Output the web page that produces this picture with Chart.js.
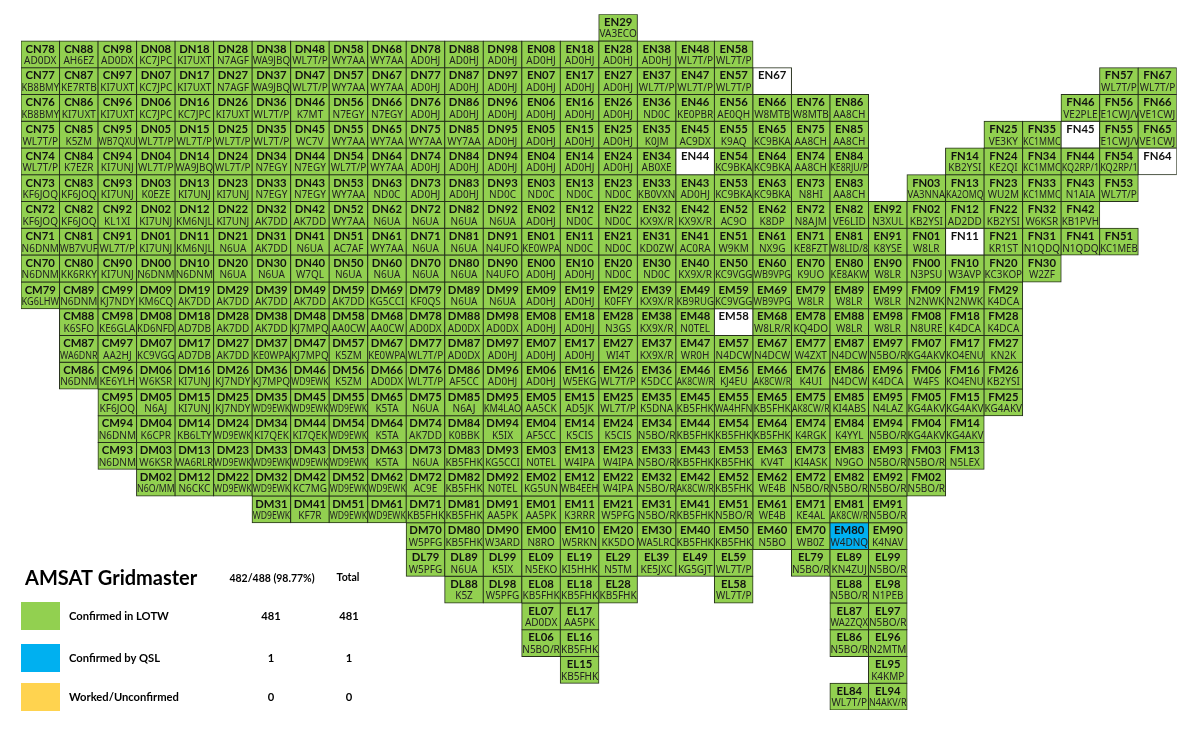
<!DOCTYPE html>
<html>
<head>
<meta charset="utf-8">
<title>AMSAT Gridmaster</title>
<script src="https://cdn.jsdelivr.net/npm/chart.js@4/dist/chart.umd.min.js"></script>
<style>
    html, body { margin: 0; padding: 0; background: #fff; }
    canvas { display: block; }
</style>
</head>
<body>
<canvas id="gridChart" width="1200" height="734"></canvas>
<script>
// columns run west to east, rows north to south (field letter + square digit)
const lonBands = ['C7','C8','C9','D0','D1','D2','D3','D4','D5','D6','D7','D8','D9','E0','E1','E2','E3','E4','E5','E6','E7','E8','E9','F0','F1','F2','F3','F4','F5','F6'];
const latBands = ['N9','N8','N7','N6','N5','N4','N3','N2','N1','N0','M9','M8','M7','M6','M5','M4','M3','M2','M1','M0','L9','L8','L7','L6','L5','L4'];

const gridsN9 = ['EN29'];
const callsN9 = ['VA3ECO'];
const gridsN8 = ['CN78','CN88','CN98','DN08','DN18','DN28','DN38','DN48','DN58','DN68','DN78','DN88','DN98','EN08','EN18','EN28','EN38','EN48','EN58'];
const callsN8 = ['AD0DX','AH6EZ','AD0DX','KC7JPC','KI7UXT','N7AGF','WA9JBQ','WL7T/P','WY7AA','WY7AA','AD0HJ','AD0HJ','AD0HJ','AD0HJ','AD0HJ','AD0HJ','AD0HJ','WL7T/P','WL7T/P'];
const gridsN7 = ['CN77','CN87','CN97','DN07','DN17','DN27','DN37','DN47','DN57','DN67','DN77','DN87','DN97','EN07','EN17','EN27','EN37','EN47','EN57','EN67','FN57','FN67'];
const callsN7 = ['KB8BMY','KE7RTB','KI7UXT','KC7JPC','KI7UXT','N7AGF','WA9JBQ','WL7T/P','WY7AA','WY7AA','AD0HJ','AD0HJ','AD0HJ','AD0HJ','AD0HJ','AD0HJ','WL7T/P','WL7T/P','WL7T/P','','WL7T/P','WL7T/P'];
const gridsN6 = ['CN76','CN86','CN96','DN06','DN16','DN26','DN36','DN46','DN56','DN66','DN76','DN86','DN96','EN06','EN16','EN26','EN36','EN46','EN56','EN66','EN76','EN86','FN46','FN56','FN66'];
const callsN6 = ['KB8BMY','KI7UXT','KI7UXT','KC7JPC','KC7JPC','KI7UXT','WL7T/P','K7MT','N7EGY','N7EGY','AD0HJ','AD0HJ','AD0HJ','AD0HJ','AD0HJ','AD0HJ','ND0C','KE0PBR','AE0QH','W8MTB','W8MTB','AA8CH','VE2PLE','VE1CWJ/W','VE1CWJ'];
const gridsN5 = ['CN75','CN85','CN95','DN05','DN15','DN25','DN35','DN45','DN55','DN65','DN75','DN85','DN95','EN05','EN15','EN25','EN35','EN45','EN55','EN65','EN75','EN85','FN25','FN35','FN45','FN55','FN65'];
const callsN5 = ['WL7T/P','K5ZM','WB7QXU','WL7T/P','WL7T/P','WL7T/P','WL7T/P','WC7V','WY7AA','WY7AA','WY7AA','WY7AA','AD0HJ','AD0HJ','AD0HJ','AD0HJ','K0JM','AC9DX','K9AQ','KC9BKA','AA8CH','AA8CH','VE3KY','KC1MMC','','VE1CWJ/W','VE1CWJ'];
const gridsN4 = ['CN74','CN84','CN94','DN04','DN14','DN24','DN34','DN44','DN54','DN64','DN74','DN84','DN94','EN04','EN14','EN24','EN34','EN44','EN54','EN64','EN74','EN84','FN14','FN24','FN34','FN44','FN54','FN64'];
const callsN4 = ['WL7T/P','K7EZR','KI7UNJ','WL7T/P','WA9JBQ','WL7T/P','N7EGY','N7EGY','WL7T/P','WY7AA','AD0HJ','AD0HJ','AD0HJ','AD0HJ','AD0HJ','AD0HJ','AB0XE','','KC9BKA','KC9BKA','AA8CH','KE8RJU/P','KB2YSI','KE2QI','KC1MMC','KQ2RP/1','KQ2RP/1',''];
const gridsN3 = ['CN73','CN83','CN93','DN03','DN13','DN23','DN33','DN43','DN53','DN63','DN73','DN83','DN93','EN03','EN13','EN23','EN33','EN43','EN53','EN63','EN73','EN83','FN03','FN13','FN23','FN33','FN43','FN53'];
const callsN3 = ['KF6JOQ','KF6JOQ','KI7UNJ','K0EZE','KI7UNJ','KI7UNJ','N7EGY','N7EGY','WY7AA','ND0C','AD0HJ','AD0HJ','ND0C','ND0C','ND0C','ND0C','KB0VXN','AD0HJ','KC9BKA','KC9BKA','N8HI','AA8CH','VA3NNA','KA2OMQ','WU2M','KC1MMC','N1AIA','WL7T/P'];
const gridsN2 = ['CN72','CN82','CN92','DN02','DN12','DN22','DN32','DN42','DN52','DN62','DN72','DN82','DN92','EN02','EN12','EN22','EN32','EN42','EN52','EN62','EN72','EN82','EN92','FN02','FN12','FN22','FN32','FN42'];
const callsN2 = ['KF6JOQ','KF6JOQ','KL1XI','KI7UNJ','KM6NJL','KI7UNJ','AK7DD','AK7DD','WY7AA','N6UA','N6UA','N6UA','N6UA','AD0HJ','ND0C','ND0C','KX9X/R','KX9X/R','AC9O','K8DP','N8AJM','VE6LID','N3XUL','KB2YSI','AD2DD','KB2YSI','W6KSR','KB1PVH'];
const gridsN1 = ['CN71','CN81','CN91','DN01','DN11','DN21','DN31','DN41','DN51','DN61','DN71','DN81','DN91','EN01','EN11','EN21','EN31','EN41','EN51','EN61','EN71','EN81','EN91','FN01','FN11','FN21','FN31','FN41','FN51'];
const callsN1 = ['N6DNM','WB7VUF','WL7T/P','KI7UNJ','KM6NJL','N6UA','AK7DD','N6UA','AC7AF','WY7AA','N6UA','N6UA','N4UFO','KE0WPA','ND0C','ND0C','KD0ZW','AC0RA','W9KM','NX9G','KE8FZT','W8LID/8','K8YSE','W8LR','','KR1ST','N1QDQ','N1QDQ','KC1MEB'];
const gridsN0 = ['CN70','CN80','CN90','DN00','DN10','DN20','DN30','DN40','DN50','DN60','DN70','DN80','DN90','EN00','EN10','EN20','EN30','EN40','EN50','EN60','EN70','EN80','EN90','FN00','FN10','FN20','FN30'];
const callsN0 = ['N6DNM','KK6RKY','KI7UNJ','N6DNM','N6DNM','N6UA','N6UA','W7QL','N6UA','N6UA','N6UA','N6UA','N4UFO','AD0HJ','AD0HJ','ND0C','ND0C','KX9X/R','KC9VGG','WB9VPG','K9UO','KE8AKW','W8LR','N3PSU','W3AVP','KC3KOP','W2ZF'];
const gridsM9 = ['CM79','CM89','CM99','DM09','DM19','DM29','DM39','DM49','DM59','DM69','DM79','DM89','DM99','EM09','EM19','EM29','EM39','EM49','EM59','EM69','EM79','EM89','EM99','FM09','FM19','FM29'];
const callsM9 = ['KG6LHW','N6DNM','KJ7NDY','KM6CQ','AK7DD','AK7DD','AK7DD','AK7DD','AK7DD','KG5CCI','KF0QS','N6UA','N6UA','AD0HJ','AD0HJ','K0FFY','KX9X/R','KB9RUG','KC9VGG','WB9VPG','W8LR','W8LR','W8LR','N2NWK','N2NWK','K4DCA'];
const gridsM8 = ['CM88','CM98','DM08','DM18','DM28','DM38','DM48','DM58','DM68','DM78','DM88','DM98','EM08','EM18','EM28','EM38','EM48','EM58','EM68','EM78','EM88','EM98','FM08','FM18','FM28'];
const callsM8 = ['K6SFO','KE6GLA','KD6NFD','AD7DB','AK7DD','AK7DD','KJ7MPQ','AA0CW','AA0CW','AD0DX','AD0DX','AD0DX','AD0HJ','AD0HJ','N3GS','KX9X/R','N0TEL','','W8LR/R','KQ4DO','W8LR','W8LR','N8URE','K4DCA','K4DCA'];
const gridsM7 = ['CM87','CM97','DM07','DM17','DM27','DM37','DM47','DM57','DM67','DM77','DM87','DM97','EM07','EM17','EM27','EM37','EM47','EM57','EM67','EM77','EM87','EM97','FM07','FM17','FM27'];
const callsM7 = ['WA6DNR','AA2HJ','KC9VGG','AD7DB','AK7DD','KE0WPA','KJ7MPQ','K5ZM','KE0WPA','WL7T/P','AD0DX','AD0HJ','AD0HJ','AD0HJ','WI4T','KX9X/R','WR0H','N4DCW','N4DCW','W4ZXT','N4DCW','N5BO/R','KG4AKV','KO4ENU','KN2K'];
const gridsM6 = ['CM86','CM96','DM06','DM16','DM26','DM36','DM46','DM56','DM66','DM76','DM86','DM96','EM06','EM16','EM26','EM36','EM46','EM56','EM66','EM76','EM86','EM96','FM06','FM16','FM26'];
const callsM6 = ['N6DNM','KE6YLH','W6KSR','KI7UNJ','KJ7NDY','KJ7MPQ','WD9EWK','K5ZM','AD0DX','WL7T/P','AF5CC','AD0HJ','AD0HJ','W5EKG','WL7T/P','K5DCC','AK8CW/R','KJ4EU','AK8CW/R','K4UI','N4DCW','K4DCA','W4FS','KO4ENU','KB2YSI'];
const gridsM5 = ['CM95','DM05','DM15','DM25','DM35','DM45','DM55','DM65','DM75','DM85','DM95','EM05','EM15','EM25','EM35','EM45','EM55','EM65','EM75','EM85','EM95','FM05','FM15','FM25'];
const callsM5 = ['KF6JOQ','N6AJ','KI7UNJ','KJ7NDY','WD9EWK','WD9EWK','WD9EWK','K5TA','N6UA','N6AJ','KM4LAO','AA5CK','AD5JK','WL7T/P','K5DNA','KB5FHK','WA4HFN','KB5FHK','AK8CW/R','KI4ABS','N4LAZ','KG4AKV','KG4AKV','KG4AKV'];
const gridsM4 = ['CM94','DM04','DM14','DM24','DM34','DM44','DM54','DM64','DM74','DM84','DM94','EM04','EM14','EM24','EM34','EM44','EM54','EM64','EM74','EM84','EM94','FM04','FM14'];
const callsM4 = ['N6DNM','K6CPR','KB6LTY','WD9EWK','KI7QEK','KI7QEK','WD9EWK','K5TA','AK7DD','K0BBK','K5IX','AF5CC','K5CIS','K5CIS','N5BO/R','KB5FHK','KB5FHK','KB5FHK','K4RGK','K4YYL','N5BO/R','KG4AKV','KG4AKV'];
const gridsM3 = ['CM93','DM03','DM13','DM23','DM33','DM43','DM53','DM63','DM73','DM83','DM93','EM03','EM13','EM23','EM33','EM43','EM53','EM63','EM73','EM83','EM93','FM03','FM13'];
const callsM3 = ['N6DNM','W6KSR','WA6RLR','WD9EWK','WD9EWK','WD9EWK','WD9EWK','K5TA','N6UA','KB5FHK','KG5CCI','N0TEL','W4IPA','W4IPA','N5BO/R','KB5FHK','KB5FHK','KV4T','KI4ASK','N9GO','N5BO/R','N5BO/R','N5LEX'];
const gridsM2 = ['DM02','DM12','DM22','DM32','DM42','DM52','DM62','DM72','DM82','DM92','EM02','EM12','EM22','EM32','EM42','EM52','EM62','EM72','EM82','EM92','FM02'];
const callsM2 = ['N6O/MM','N6CKC','WD9EWK','WD9EWK','KC7MG','WD9EWK','WD9EWK','AC9E','KB5FHK','N0TEL','KG5UN','WB4EEH','W4IPA','N5BO/R','AK8CW/R','KB5FHK','WE4B','N5BO/R','N5BO/R','N5BO/R','N5BO/R'];
const gridsM1 = ['DM31','DM41','DM51','DM61','DM71','DM81','DM91','EM01','EM11','EM21','EM31','EM41','EM51','EM61','EM71','EM81','EM91'];
const callsM1 = ['WD9EWK','KF7R','WD9EWK','WD9EWK','KB5FHK','KB5FHK','AA5PK','AA5PK','K3RRR','W5PFG','N5BO/R','KB5FHK','N5BO/R','WE4B','KE4AL','AK8CW/R','N5BO/R'];
const gridsM0 = ['DM70','DM80','DM90','EM00','EM10','EM20','EM30','EM40','EM50','EM60','EM70','EM80','EM90'];
const callsM0 = ['W5PFG','KB5FHK','W3ARD','N8RO','W5RKN','KK5DO','WA5LRC','KB5FHK','KB5FHK','N5BO','WB0Z','W4DNQ','K4NAV'];
const gridsL9 = ['DL79','DL89','DL99','EL09','EL19','EL29','EL39','EL49','EL59','EL79','EL89','EL99'];
const callsL9 = ['W5PFG','N6UA','K5IX','N5EKO','KI5HHK','N5TM','KE5JXC','KG5GJT','WL7T/P','N5BO/R','KN4ZUJ','N5BO/R'];
const gridsL8 = ['DL88','DL98','EL08','EL18','EL28','EL58','EL88','EL98'];
const callsL8 = ['K5Z','W5PFG','KB5FHK','KB5FHK','KB5FHK','WL7T/P','N5BO/R','N1PEB'];
const gridsL7 = ['EL07','EL17','EL87','EL97'];
const callsL7 = ['AD0DX','AA5PK','WA2ZQX','N5BO/R'];
const gridsL6 = ['EL06','EL16','EL86','EL96'];
const callsL6 = ['N5BO/R','KB5FHK','N5BO/R','N2MTM'];
const gridsL5 = ['EL15','EL95'];
const callsL5 = ['KB5FHK','K4KMP'];
const gridsL4 = ['EL84','EL94'];
const callsL4 = ['WL7T/P','N4AKV/R'];

const qslGrids = ['EM80'];

const legendLabels = ['Confirmed in LOTW', 'Confirmed by QSL', 'Worked/Unconfirmed'];
const legendCounts = [481, 1, 0];
const legendTotals = [481, 1, 0];

const GREEN = '#92D050';
const BLUE = '#00B0F0';
const YELLOW = '#FFD34F';

const allGrids = [gridsN9, gridsN8, gridsN7, gridsN6, gridsN5, gridsN4, gridsN3, gridsN2, gridsN1, gridsN0, gridsM9, gridsM8, gridsM7, gridsM6, gridsM5, gridsM4, gridsM3, gridsM2, gridsM1, gridsM0, gridsL9, gridsL8, gridsL7, gridsL6, gridsL5, gridsL4];
const allCalls = [callsN9, callsN8, callsN7, callsN6, callsN5, callsN4, callsN3, callsN2, callsN1, callsN0, callsM9, callsM8, callsM7, callsM6, callsM5, callsM4, callsM3, callsM2, callsM1, callsM0, callsL9, callsL8, callsL7, callsL6, callsL5, callsL4];

function lonIndex(grid) {
    return lonBands.indexOf(grid[0] + grid[2]);
}

function cellColor(grid, call) {
    if (qslGrids.includes(grid)) return BLUE;
    return call ? GREEN : '#FFFFFF';
}

// one floating-bar dataset per row of the grid
const rowDatasets = allGrids.map(function(grids, row) {
    const values = lonBands.map(() => null);
    const colors = lonBands.map(() => GREEN);
    grids.forEach(function(grid, i) {
        values[lonIndex(grid)] = [row, row + 1];
        colors[lonIndex(grid)] = cellColor(grid, allCalls[row][i]);
    });
    return {
        data: values,
        backgroundColor: colors,
        borderColor: '#26301c',
        borderWidth: 1,
        borderSkipped: false,
        inflateAmount: 0.5,
        grouped: false,
        barPercentage: 1,
        categoryPercentage: 1
    };
});

const cellLabels = {
    id: 'cellLabels',
    afterDatasetsDraw(chart) {
        const ctx = chart.ctx;
        const x = chart.scales.x;
        const y = chart.scales.y;
        const colWidth = x.getPixelForValue(1) - x.getPixelForValue(0);
        const rowHeight = y.getPixelForValue(1) - y.getPixelForValue(0);
        ctx.save();
        ctx.textAlign = 'center';
        ctx.textBaseline = 'middle';
        allGrids.forEach(function(grids, row) {
            const top = y.getPixelForValue(row);
            grids.forEach(function(grid, i) {
                const col = lonIndex(grid);
                const cx = x.getPixelForValue(col);
                ctx.fillStyle = '#111';
                ctx.font = 'bold 11.3px Lato';
                ctx.fillText(grid, cx, top + rowHeight * 0.3);
                const call = allCalls[row][i];
                if (!call) return;
                // long calls get cut at the cell edge unless the next cell is empty
                const rightFree = !grids.some(g => lonIndex(g) === col + 1);
                ctx.save();
                ctx.beginPath();
                ctx.rect(cx - colWidth / 2, top, colWidth + (rightFree ? 10 : 0), rowHeight);
                ctx.clip();
                ctx.fillStyle = '#222';
                ctx.font = '10px "Noto Sans"';
                // slightly wide ones are squeezed to fit, really long ones stay clipped
                const textWidth = ctx.measureText(call).width;
                if (textWidth <= 45) {
                    ctx.fillText(call, cx, top + rowHeight * 0.76, colWidth - 1);
                } else {
                    ctx.fillText(call, cx, top + rowHeight * 0.76);
                }
                ctx.restore();
            });
        });
        ctx.restore();
    }
};

const legendBlock = {
    id: 'legendBlock',
    afterDraw(chart) {
        const ctx = chart.ctx;
        const swatches = [GREEN, BLUE, YELLOW];
        const swatchTops = [602, 644, 683];
        ctx.save();
        ctx.textBaseline = 'middle';
        ctx.fillStyle = '#000';
        ctx.textAlign = 'left';
        ctx.font = 'bold 20px Lato';
        ctx.fillText('AMSAT Gridmaster', 25, 579);
        ctx.textAlign = 'center';
        ctx.font = 'bold 10.5px Lato';
        ctx.fillText('482/488 (98.77%)', 272, 579);
        ctx.fillText('Total', 348, 578);
        legendLabels.forEach(function(label, i) {
            const mid = swatchTops[i] + 14;
            ctx.fillStyle = swatches[i];
            ctx.fillRect(21, swatchTops[i], 39, 28);
            ctx.fillStyle = '#000';
            ctx.textAlign = 'left';
            ctx.font = 'bold 11.2px Lato';
            ctx.fillText(label, 69, mid);
            ctx.textAlign = 'center';
            ctx.fillText(legendCounts[i], 271, mid);
            ctx.fillText(legendTotals[i], 349, mid);
        });
        ctx.restore();
    }
};

new Chart(document.getElementById('gridChart').getContext('2d'), {
    type: 'bar',
    data: {
        labels: lonBands,
        datasets: rowDatasets
    },
    options: {
        responsive: false,
        animation: false,
        layout: {
            padding: { left: 21, right: 23.3, top: 14.3, bottom: 24 }
        },
        scales: {
            x: { display: false },
            y: { display: false, reverse: true, min: 0, max: latBands.length }
        },
        plugins: {
            legend: { display: false },
            tooltip: { enabled: false }
        }
    },
    plugins: [cellLabels, legendBlock]
});
</script>
</body>
</html>
